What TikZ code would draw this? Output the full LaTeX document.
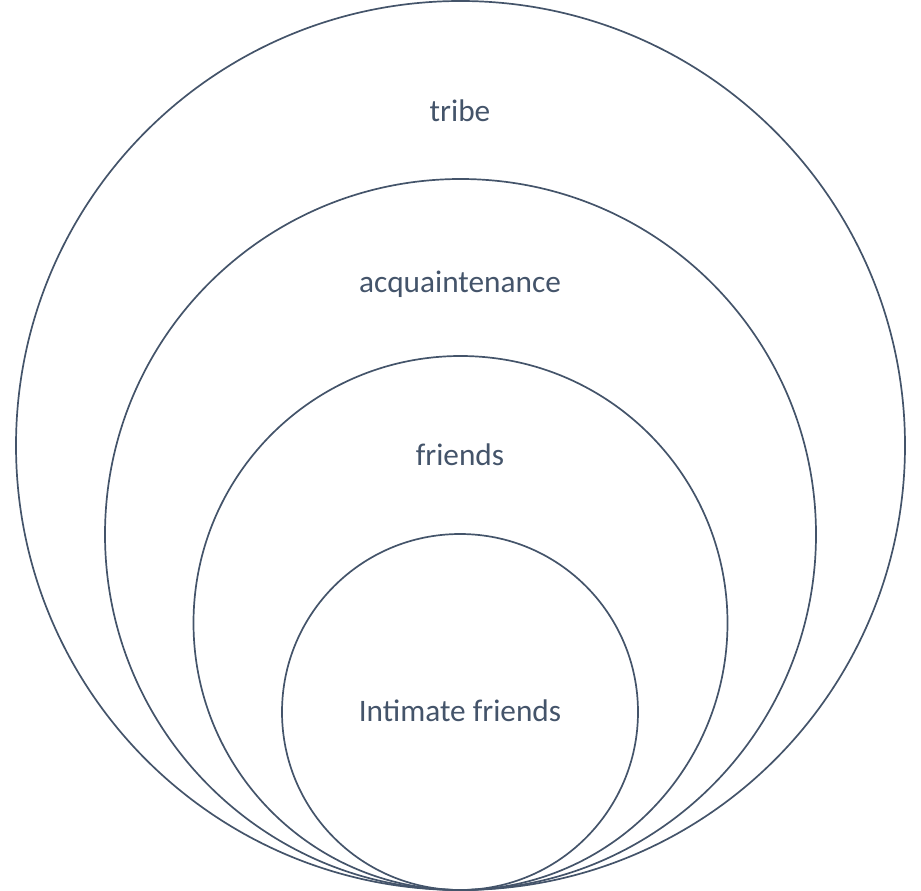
\documentclass[tikz,border=0pt]{standalone}
\usepackage{fontspec}
\setmainfont{Carlito}
\definecolor{slate}{HTML}{44546A}
\tikzset{
  ring/.style={draw=slate, line width=1.7pt},
  lbl/.style={text=slate, font=\fontsize{31.3}{37}\selectfont, inner sep=0pt}
}
\begin{document}
\begin{tikzpicture}[x=1pt, y=-1pt]
      \useasboundingbox (0,0) rectangle (921,891);
      \begin{scope}[ring]
        \draw (460.5,445.5) circle (444.5pt);
        \draw (460.5,534.5) circle (355.5pt);
        \draw (460.5,623) circle (267pt);
        \draw (460,712) circle (178pt);
      \end{scope}
      \draw
        (460,111) node[lbl] (tribe){tribe}
        (460,284) node[lbl] (acq){acquaintenance}
        (460,455) node[lbl] (friends){friends}
        (460,711) node[lbl] (intimate){Intimate friends};
    \end{tikzpicture}
\end{document}
